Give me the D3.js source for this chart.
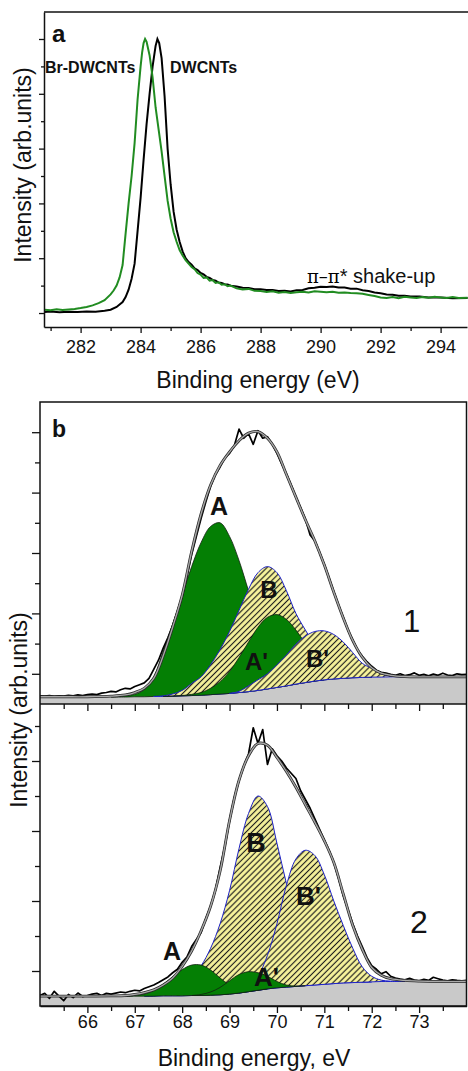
<!DOCTYPE html>
<html>
<head>
<meta charset="utf-8">
<script src="https://cdn.jsdelivr.net/npm/d3@7/dist/d3.min.js"></script>
<style>
  body { margin: 0; background: #fff; }
  svg text, svg tspan { font-family: "Liberation Sans", Arial, sans-serif; fill: #111; }
</style>
</head>
<body>
<div id="chart"></div>
<script>
/* * * * * * * * * * * * * * * * * *
*  panel a : C1s, DWCNTs vs Br-DWCNTs *
* * * * * * * * * * * * * * * * * * */

// [binding energy (eV), normalised intensity]
const dwcnt = [
    [280.8,.004],[281.0,.006],[281.3,.003],[281.6,.005],[281.9,.004],[282.2,.006],[282.5,.005],[282.8,.008],
    [283.0,.012],[283.2,.022],[283.4,.04],[283.5,.058],[283.6,.085],[283.7,.125],[283.8,.18],[283.9,.3],
    [284.0,.42],[284.1,.56],[284.2,.69],[284.3,.8],[284.4,.9],[284.5,.975],[284.56,1.0],[284.62,.985],
    [284.7,.93],[284.8,.79],[284.9,.6],[285.0,.47],[285.1,.37],[285.2,.305],[285.3,.26],[285.4,.225],
    [285.5,.2],[285.6,.186],[285.7,.176],[285.8,.163],[285.9,.157],[286.0,.146],[286.1,.141],[286.2,.132],
    [286.3,.128],[286.4,.121],[286.5,.118],[286.6,.111],[286.7,.11],[286.8,.105],[286.9,.104],[287.0,.1],
    [287.2,.097],[287.4,.092],[287.6,.091],[287.8,.087],[288.0,.087],[288.2,.084],[288.4,.084],[288.6,.08],
    [288.8,.081],[289.0,.079],[289.2,.083],[289.4,.084],[289.6,.09],[289.8,.092],[290.0,.096],[290.2,.095],
    [290.4,.097],[290.6,.093],[290.8,.093],[291.0,.089],[291.2,.089],[291.4,.083],[291.6,.08],[291.8,.075],
    [292.0,.072],[292.2,.068],[292.4,.067],[292.6,.063],[292.8,.063],[293.0,.06],[293.3,.06],[293.6,.057],
    [294.0,.057],[294.4,.054],[294.9,.055]
];

const brDwcnt = [
    [280.8,.012],[281.0,.01],[281.2,.014],[281.4,.011],[281.6,.013],[281.8,.015],[282.0,.018],[282.2,.022],
    [282.4,.028],[282.6,.036],[282.8,.047],[283.0,.068],[283.1,.082],[283.2,.1],[283.3,.13],[283.4,.175],
    [283.5,.29],[283.6,.4],[283.7,.5],[283.8,.62],[283.9,.78],[284.0,.9],[284.05,.95],[284.1,.985],
    [284.15,1.0],[284.2,.99],[284.3,.94],[284.4,.86],[284.5,.75],[284.6,.67],[284.7,.59],[284.8,.5],
    [284.9,.41],[285.0,.345],[285.1,.295],[285.2,.26],[285.3,.23],[285.4,.21],[285.5,.193],[285.6,.18],
    [285.7,.168],[285.8,.16],[285.9,.146],[286.0,.14],[286.1,.128],[286.2,.13],[286.3,.118],[286.4,.12],
    [286.5,.11],[286.6,.112],[286.7,.103],[286.8,.105],[286.9,.098],[287.0,.1],[287.2,.09],[287.4,.086],
    [287.6,.088],[287.8,.081],[288.0,.08],[288.2,.077],[288.4,.079],[288.6,.074],[288.8,.077],[289.0,.073],
    [289.2,.076],[289.4,.078],[289.6,.075],[289.8,.079],[290.0,.078],[290.2,.076],[290.4,.078],[290.6,.074],
    [290.8,.075],[291.0,.073],[291.2,.072],[291.4,.07],[291.6,.066],[291.8,.062],[292.0,.057],[292.2,.055],
    [292.4,.058],[292.6,.054],[292.8,.059],[293.0,.057],[293.2,.055],[293.4,.058],[293.6,.056],[293.8,.059],
    [294.0,.057],[294.2,.055],[294.4,.058],[294.6,.055],[294.9,.056]
];

const aMajorX = [282, 284, 286, 288, 290, 292, 294];
const aMinorX = [281, 283, 285, 287, 289, 291, 293];
const aMajorY = [0, 0.2, 0.4, 0.6, 0.8, 1.0];
const aMinorY = [0.1, 0.3, 0.5, 0.7, 0.9];

/* * * * * * * * * * * * * * * *
*  panel b : Br3d fits, 1 and 2  *
* * * * * * * * * * * * * * * */

// shared energy grid of the fitted curves
const bEnergy = [65.0,65.5,66.0,66.5,66.8,67.0,67.2,67.4,67.6,67.8,68.0,68.2,68.4,68.6,68.8,69.0,69.2,69.4,69.6,69.8,
                 70.0,70.2,70.4,70.6,70.8,71.0,71.2,71.4,71.6,71.8,72.0,72.2,72.4,72.7,73.0,73.5,74.0];

// spectrum 1
const bg1 = [.23,.23,.23,.23,.23,.24,.24,.25,.25,.26,.27,.28,.29,.31,.33,.35,.38,.41,.45,.50,
             .55,.60,.66,.71,.76,.80,.83,.85,.87,.88,.89,.89,.90,.90,.90,.90,.90];
const peakA1 = [null,null,null,.23,.27,.32,.48,.90,1.75,2.65,3.60,4.55,5.35,5.88,6.00,5.55,4.75,3.75,2.75,1.95,
                1.30,.90,.75,.74,.77,.80,null,null,null,null,null,null,null,null,null,null,null];
const peakB1 = [null,null,null,null,null,null,null,.25,.27,.33,.45,.68,.90,1.30,1.80,2.40,3.10,3.80,4.35,4.55,
                4.35,3.75,3.00,2.45,1.95,1.55,1.25,1.05,.95,.91,.89,null,null,null,null,null,null];
const peakA1p = [null,null,null,null,null,null,null,null,.25,.26,.28,.32,.38,.52,.74,1.08,1.54,2.05,2.54,2.87,
                 2.96,2.80,2.45,2.01,1.61,1.30,1.09,.97,.92,.90,.89,null,null,null,null,null,null];
const peakB1p = [null,null,null,null,null,null,null,null,null,null,null,null,null,null,null,.35,.42,.60,.80,1.00,
                 1.30,1.62,1.98,2.25,2.40,2.42,2.30,2.05,1.70,1.35,1.18,1.00,.93,.90,null,null,null];
const fit1 = [.24,.24,.24,.26,.30,.38,.52,.85,1.60,2.55,3.60,5.05,6.30,7.25,7.90,8.35,8.72,8.97,9.02,8.80,
              8.35,7.60,6.85,6.10,5.40,4.60,3.70,2.85,2.10,1.55,1.20,1.02,.95,.91,.90,.90,.90];

// spectrum 2
const bg2 = [.27,.27,.27,.27,.27,.28,.28,.28,.29,.29,.29,.30,.30,.31,.32,.34,.37,.41,.45,.49,
             .52,.54,.56,.58,.60,.62,.64,.66,.67,.68,.69,.70,.70,.70,.70,.70,.70];
const peakA2 = [null,null,null,null,.27,.30,.34,.45,.62,.84,1.04,1.17,1.17,1.03,.80,.60,.47,.43,.46,.49,
                null,null,null,null,null,null,null,null,null,null,null,null,null,null,null,null,null];
const peakB2 = [null,null,null,null,null,null,.28,.29,.33,.42,.58,.82,1.15,1.65,2.35,3.30,4.50,5.50,6.00,5.70,
                4.65,3.50,2.45,1.70,1.20,.92,.78,.72,.69,.68,.69,null,null,null,null,null,null];
const peakA2p = [null,null,null,null,null,null,null,null,null,null,null,.30,.33,.40,.53,.72,.90,.98,.95,.85,
                 .70,.60,.57,.58,null,null,null,null,null,null,null,null,null,null,null,null,null];
const peakB2p = [null,null,null,null,null,null,null,null,null,null,null,null,null,null,null,null,.37,.55,.85,1.45,
                 2.35,3.45,4.20,4.45,4.30,3.75,3.00,2.30,1.65,1.12,.85,.74,.71,.70,null,null,null];
const fit2 = [.28,.28,.28,.29,.30,.33,.38,.46,.60,.80,1.13,1.57,2.15,2.85,3.85,5.30,6.45,7.15,7.50,7.45,
              7.10,6.70,6.25,5.75,5.25,4.72,4.10,3.20,2.30,1.62,1.10,.88,.78,.73,.71,.70,.70];

// measured spectra, one point every 0.1 eV from 65.0 eV
const scanStart = 65.0, scanStep = 0.1;
const scan1 = [.27,.26,.28,.25,.27,.26,.29,.27,.30,.28, .31,.33,.31,.36,.38,.42,.40,.47,.52,.50,
               .58,.64,.70,.85,1.15,1.45,1.85,2.20,2.60,3.05, 3.55,4.20,4.95,5.55,6.15,6.70,7.20,7.60,7.85,8.15,
               8.30,8.55,9.10,8.80,8.95,8.60,9.05,8.80,8.85,8.60, 8.30,7.95,7.62,7.25,6.85,6.50,6.12,5.60,5.40,5.02,
               4.62,4.17,3.72,3.28,2.87,2.45,2.12,1.80,1.58,1.40, 1.25,1.12,1.05,1.02,.98,.95,1.00,.94,.97,1.03,
               .95,.98,.93,.99,.95,1.02,.96,.94,1.00,.97,.98];
const scan2 = [.30,.36,.22,.42,.28,.15,.33,.24,.37,.27, .30,.34,.36,.30,.36,.34,.37,.40,.38,.42,
               .45,.43,.50,.55,.60,.67,.75,.83,.95,1.05, 1.25,1.40,1.70,1.90,2.10,2.50,2.85,3.30,3.95,4.55,
               5.30,5.95,6.45,6.85,7.20,7.95,7.50,7.90,6.90,7.35, 7.15,7.00,6.80,6.65,6.50,6.15,5.90,5.65,5.35,5.05,
               4.75,4.45,4.10,3.65,3.15,2.75,2.35,2.00,1.70,1.38, 1.15,1.05,.92,.98,.85,.80,.77,.75,.79,.74,
               .72,.76,.73,.82,.78,.74,.72,.75,.73,.72,.73];

const bMajorX = [66, 67, 68, 69, 70, 71, 72, 73];
const bMinorX = [65.5, 66.5, 67.5, 68.5, 69.5, 70.5, 71.5, 72.5, 73.5];
const b1MajorY = [1, 3, 5, 7, 9];
const b1MinorY = [2, 4, 6, 8];
const b2MajorY = [1, 3, 5, 7];
const b2MinorY = [2, 4, 6, 8];


/* ---------- drawing ---------- */

const svg = d3.select("#chart").append("svg")
    .attr("width", 468)
    .attr("height", 1071);

svg.append("rect").attr("width", 468).attr("height", 1071).attr("fill", "#fff");

const defs = svg.append("defs");

// yellow hatch of the B components
let pat = defs.append("pattern")
    .attr("id", "hatch")
    .attr("patternUnits", "userSpaceOnUse")
    .attr("width", 4.2).attr("height", 4.2)
    .attr("patternTransform", "rotate(45)");
pat.append("rect").attr("width", 4.2).attr("height", 4.2).attr("fill", "#f8f49c");
pat.append("line").attr("x1", 2.1).attr("x2", 2.1).attr("y1", 0).attr("y2", 4.2)
    .attr("stroke", "#1c1c1c").attr("stroke-width", 1.15);

defs.append("clipPath").attr("id", "clip1")
    .append("rect").attr("x", 40).attr("y", 402).attr("width", 426.5).attr("height", 302);
defs.append("clipPath").attr("id", "clip2")
    .append("rect").attr("x", 40).attr("y", 704).attr("width", 426.5).attr("height", 302);

function styleAxis(g, fontSize) {
    g.attr("font-family", null).attr("font-size", null);
    g.selectAll(".domain").attr("stroke", "#111").attr("stroke-width", 1.5);
    g.selectAll(".tick line").attr("stroke", "#111").attr("stroke-width", 1.3);
    g.selectAll(".tick text").attr("font-size", fontSize).attr("fill", "#111");
}

// ---------- panel a ----------
const xa = d3.scaleLinear().domain([280.78, 294.88]).range([44, 467]);
const ya = d3.scaleLinear().domain([-0.051, 1.0985]).range([327, 12]);

let ga = svg.append("g");

let lineA = d3.line()
    .x(d => xa(d[0]))
    .y(d => ya(d[1]));

ga.append("path").attr("d", lineA(dwcnt))
    .attr("fill", "none").attr("stroke", "#000").attr("stroke-width", 2);
ga.append("path").attr("d", lineA(brDwcnt))
    .attr("fill", "none").attr("stroke", "#218c21").attr("stroke-width", 2);

// axes
ga.append("g").attr("transform", "translate(0,327)")
    .call(d3.axisBottom(xa).tickValues(aMajorX).tickSize(6).tickSizeOuter(0).tickPadding(7).tickFormat(d3.format("d")))
    .call(g => styleAxis(g, 18));
ga.append("g").attr("transform", "translate(0,327)")
    .call(d3.axisBottom(xa).tickValues(aMinorX).tickSize(4).tickFormat(""))
    .call(g => { styleAxis(g, 18); g.select(".domain").remove(); });
ga.append("g").attr("transform", "translate(44,0)")
    .call(d3.axisLeft(ya).tickValues(aMajorY).tickSize(5).tickSizeOuter(0).tickFormat(""))
    .call(g => styleAxis(g, 18));
ga.append("g").attr("transform", "translate(44,0)")
    .call(d3.axisLeft(ya).tickValues(aMinorY).tickSize(3).tickFormat(""))
    .call(g => { styleAxis(g, 18); g.select(".domain").remove(); });
ga.append("line").attr("x1", 44).attr("x2", 468).attr("y1", 12).attr("y2", 12)
    .attr("stroke", "#111").attr("stroke-width", 1.5);

// labels
ga.append("text").attr("x", 52).attr("y", 42).text("a")
    .style("font-size", "24px").style("font-weight", "bold");
ga.append("text").attr("x", 45).attr("y", 73).text("Br-DWCNTs")
    .style("font-size", "16px").style("font-weight", "bold");
ga.append("text").attr("x", 170).attr("y", 73).text("DWCNTs")
    .style("font-size", "16px").style("font-weight", "bold");

let shake = ga.append("text").attr("x", 307).attr("y", 283).style("font-size", "20px");
shake.append("tspan").style("font-family", "'DejaVu Serif', 'Liberation Serif', serif")
    .style("font-size", "18px").style("fill", "#000").text("π–π");
shake.append("tspan").style("fill", "#111").text("* shake-up");

ga.append("text").attr("x", 258).attr("y", 388).attr("text-anchor", "middle")
    .style("font-size", "23px").text("Binding energy (eV)");
ga.append("text").attr("transform", "translate(31,165) rotate(-90)").attr("text-anchor", "middle")
    .style("font-size", "23px").text("Intensity (arb.units)");

// ---------- panel b ----------
const xb = d3.scaleLinear().domain([65, 74]).range([40, 466.5]);
const yb1 = d3.scaleLinear().domain([0, 10]).range([704, 402]);
const yb2 = d3.scaleLinear().domain([0, 302 / 35]).range([1006, 704]);

function drawSpectrum(clipId, y, bg, comps, fit, scan) {
    let g = svg.append("g").attr("clip-path", "url(#" + clipId + ")");

    // background (grey)
    let bgArea = d3.area().curve(d3.curveCatmullRom.alpha(0.5))
        .x((d, i) => xb(bEnergy[i]))
        .y0(y(0) + 2)
        .y1(d => y(d));
    g.append("path").attr("d", bgArea(bg)).attr("fill", "#c9c9c9");

    // fitted components, in drawing order
    comps.forEach(c => {
        let area = d3.area().curve(d3.curveCatmullRom.alpha(0.5))
            .defined(d => d !== null)
            .x((d, i) => xb(bEnergy[i]))
            .y0((d, i) => y(bg[i]))
            .y1(d => y(d));
        g.append("path").attr("d", area(c.values))
            .attr("fill", c.fill)
            .attr("stroke", c.stroke)
            .attr("stroke-width", c.width);
    });

    // measured spectrum
    let scanLine = d3.line()
        .x((d, i) => xb(scanStart + i * scanStep))
        .y(d => y(d));
    g.append("path").attr("d", scanLine(scan))
        .attr("fill", "none").attr("stroke", "#000").attr("stroke-width", 1.7)
        .attr("stroke-linejoin", "round");

    // envelope of the fit
    let fitLine = d3.line().curve(d3.curveCatmullRom.alpha(0.5))
        .x((d, i) => xb(bEnergy[i]))
        .y(d => y(d));
    g.append("path").attr("d", fitLine(fit))
        .attr("fill", "none").attr("stroke", "#2a2a2a").attr("stroke-width", 2.8);
    g.append("path").attr("d", fitLine(fit))
        .attr("fill", "none").attr("stroke", "#a9a9a9").attr("stroke-width", 1.3);
    return g;
}

const green = "#047f04";
const greenStyle = {fill: green, stroke: "#102010", width: 0.8};
const hatchStyle = {fill: "url(#hatch)", stroke: "#1e22c8", width: 1};

drawSpectrum("clip1", yb1, bg1, [
    Object.assign({values: peakA1}, greenStyle),
    Object.assign({values: peakB1}, hatchStyle),
    Object.assign({values: peakA1p}, greenStyle),
    Object.assign({values: peakB1p}, hatchStyle)
], fit1, scan1);

drawSpectrum("clip2", yb2, bg2, [
    Object.assign({values: peakB2}, hatchStyle),
    Object.assign({values: peakB2p}, hatchStyle),
    Object.assign({values: peakA2}, greenStyle),
    Object.assign({values: peakA2p}, greenStyle)
], fit2, scan2);

let gb = svg.append("g");

// peak labels
function peakLabel(txt, x, y, size, anchor) {
    gb.append("text").attr("x", x).attr("y", y).attr("text-anchor", anchor || "middle")
        .style("font-size", size + "px").style("font-weight", "bold").text(txt);
}
peakLabel("A", 219, 515, 25);
peakLabel("B", 269, 598, 24);
peakLabel("A'", 245, 670, 24, "start");
peakLabel("B'", 306, 667, 24, "start");
peakLabel("A", 172, 960, 25);
peakLabel("B", 256, 852, 27);
peakLabel("B'", 296, 905, 26, "start");
peakLabel("A'", 254, 986, 26, "start");

gb.append("text").attr("x", 403).attr("y", 632).style("font-size", "31px").text("1");
gb.append("text").attr("x", 410).attr("y", 933).style("font-size", "32px").text("2");
gb.append("text").attr("x", 52).attr("y", 437).style("font-size", "23px").style("font-weight", "bold").text("b");

// axes
gb.append("g").attr("transform", "translate(0,1006)")
    .call(d3.axisBottom(xb).tickValues(bMajorX).tickSize(7).tickSizeOuter(0).tickPadding(2.5).tickFormat(d3.format("d")))
    .call(g => styleAxis(g, 18));
gb.append("g").attr("transform", "translate(0,1006)")
    .call(d3.axisBottom(xb).tickValues(bMinorX).tickSize(5).tickFormat(""))
    .call(g => { styleAxis(g, 18); g.select(".domain").remove(); });
gb.append("g").attr("transform", "translate(0,704)")
    .call(d3.axisBottom(xb).tickValues(bMajorX).tickSize(7).tickFormat(""))
    .call(g => { styleAxis(g, 18); g.select(".domain").remove(); });
gb.append("g").attr("transform", "translate(0,704)")
    .call(d3.axisBottom(xb).tickValues(bMinorX).tickSize(5).tickFormat(""))
    .call(g => { styleAxis(g, 18); g.select(".domain").remove(); });

[[yb1, b1MajorY, 8], [yb1, b1MinorY, 5], [yb2, b2MajorY, 8], [yb2, b2MinorY, 5]].forEach(a => {
    gb.append("g").attr("transform", "translate(40,0)")
        .call(d3.axisLeft(a[0]).tickValues(a[1]).tickSize(a[2]).tickFormat(""))
        .call(g => { styleAxis(g, 18); g.select(".domain").remove(); });
});

// frame
gb.append("rect").attr("x", 40).attr("y", 402).attr("width", 426.5).attr("height", 604)
    .attr("fill", "none").attr("stroke", "#111").attr("stroke-width", 1.5);
gb.append("line").attr("x1", 40).attr("x2", 466.5).attr("y1", 704).attr("y2", 704)
    .attr("stroke", "#111").attr("stroke-width", 1.5);

gb.append("text").attr("x", 254).attr("y", 1066).attr("text-anchor", "middle")
    .style("font-size", "23px").text("Binding energy, eV");
gb.append("text").attr("transform", "translate(27,710) rotate(-90)").attr("text-anchor", "middle")
    .style("font-size", "23px").text("Intensity (arb.units)");
</script>
</body>
</html>
